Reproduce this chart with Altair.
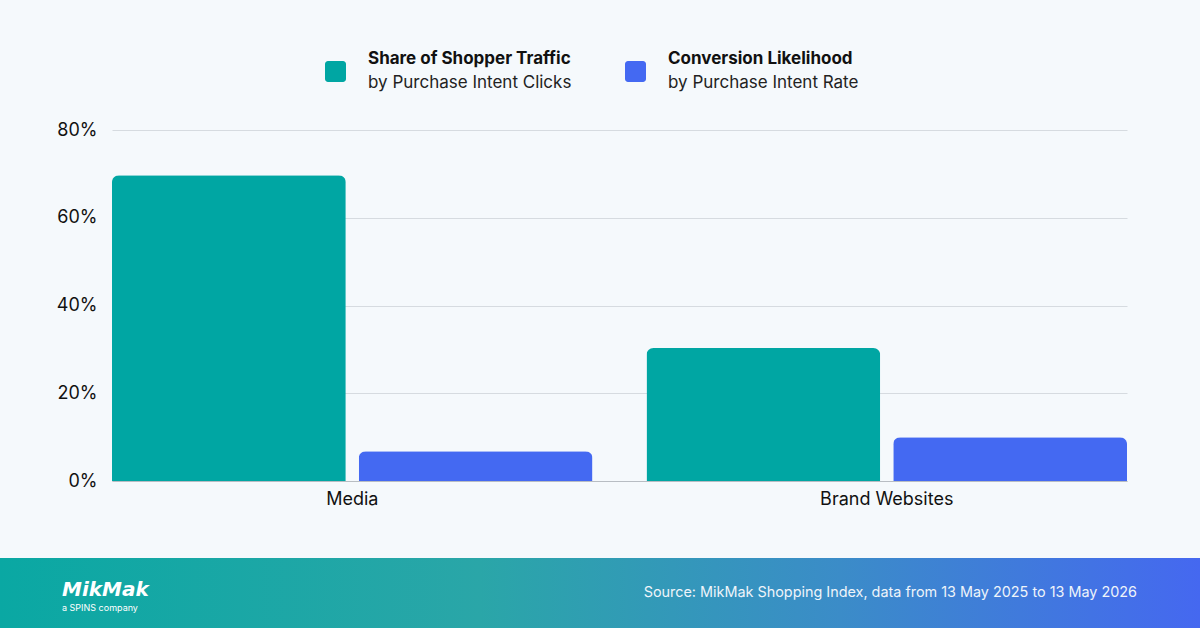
import altair as alt
import pandas as pd

# ---- data ----
categories = ["Media", "Brand Websites"]
series = ["Share of Shopper Traffic", "Conversion Likelihood"]
subtitles = ["by Purchase Intent Clicks", "by Purchase Intent Rate"]
traffic = [69.7, 30.3]
conversion = [6.8, 10.0]
y_ticks = [0, 20, 40, 60, 80]
colors = ["#00A6A3", "#4469F2"]
source_text = "Source: MikMak Shopping Index, data from 13 May 2025 to 13 May 2026"

rows = []
for i, c in enumerate(categories):
    rows.append({"category": c, "series": series[0], "value": traffic[i]})
    rows.append({"category": c, "series": series[1], "value": conversion[i]})
df = pd.DataFrame(rows)

FONT = "Inter"
PL, PT, W, H = 112, 130, 1015, 351

bars = alt.Chart(df).mark_bar(
    cornerRadiusTopLeft=7, cornerRadiusTopRight=7
).encode(
    x=alt.X("category:N", sort=categories, title=None,
            scale=alt.Scale(paddingInner=0.101, paddingOuter=0),
            axis=alt.Axis(labelAngle=0, labelFont=FONT, labelFontSize=18,
                          labelColor="#111111", labelPadding=9, ticks=False,
                          domain=True, domainColor="#B8BDC3", domainWidth=1)),
    xOffset=alt.XOffset("series:N", sort=series,
                        scale=alt.Scale(paddingInner=0.0526, paddingOuter=0)),
    y=alt.Y("value:Q", title=None,
            scale=alt.Scale(domain=[0, 80], nice=False),
            axis=alt.Axis(values=y_ticks, labelExpr="datum.value + '%'",
                          labelFont=FONT, labelFontSize=18, labelColor="#111111",
                          labelPadding=15, ticks=False, domain=False,
                          grid=True, gridColor="#D6DBE0", gridWidth=1)),
    color=alt.Color("series:N", sort=series,
                    scale=alt.Scale(domain=series, range=colors), legend=None),
)

one = pd.DataFrame({"a": [0]})

# ---- custom legend ----
legend_layers = []
leg_x = [325, 625]
for i, s in enumerate(series):
    sq = alt.Chart(one).mark_rect(color=colors[i], cornerRadius=3).encode(
        x=alt.value(leg_x[i] - PL), x2=alt.value(leg_x[i] + 21 - PL),
        y=alt.value(61 - PT), y2=alt.value(82 - PT))
    t1 = alt.Chart(one).mark_text(
        text=s, font=FONT, fontSize=17, fontWeight="bold", color="#111111",
        align="left", baseline="middle").encode(
        x=alt.value(leg_x[i] + 43 - PL), y=alt.value(59 - PT))
    t2 = alt.Chart(one).mark_text(
        text=subtitles[i], font=FONT, fontSize=17, color="#222222",
        align="left", baseline="middle").encode(
        x=alt.value(leg_x[i] + 43 - PL), y=alt.value(83 - PT))
    legend_layers += [sq, t1, t2]

# ---- footer ----
footer = alt.Chart(one).mark_rect(
    color=alt.LinearGradient(
        gradient="linear",
        stops=[alt.GradientStop(color="#0AA8A3", offset=0),
               alt.GradientStop(color="#2AA6A8", offset=0.4),
               alt.GradientStop(color="#3B8CC8", offset=0.7),
               alt.GradientStop(color="#4568F0", offset=1)],
        x1=0, x2=1, y1=0, y2=0)
).encode(x=alt.value(-PL), x2=alt.value(1200 - PL),
         y=alt.value(558 - PT), y2=alt.value(628 - PT))

src = alt.Chart(one).mark_text(
    text=source_text, font=FONT, fontSize=14.4, color="#EEF4FA",
    align="right", baseline="middle").encode(
    x=alt.value(1137 - PL), y=alt.value(593 - PT))

logo = alt.Chart(one).mark_text(
    text="MikMak", font="DejaVu Sans", fontSize=20, fontWeight="bold",
    fontStyle="italic", color="#FFFFFF", align="left", baseline="middle").encode(
    x=alt.value(62 - PL), y=alt.value(590 - PT))
logo_sub = alt.Chart(one).mark_text(
    text="a SPINS company", font=FONT, fontSize=9, color="#FFFFFF",
    align="left", baseline="middle").encode(
    x=alt.value(62 - PL), y=alt.value(608 - PT))

chart = alt.layer(footer, bars, *legend_layers, src, logo, logo_sub).properties(
    width=W, height=H,
    padding={"left": PL, "top": PT, "right": 1200 - PL - W, "bottom": 628 - PT - H},
    autosize=alt.AutoSizeParams(type="none"),
    background="#F5F9FC",
).configure_view(stroke=None)

chart.save("out.html", embed_options={"renderer": "svg", "actions": False})
